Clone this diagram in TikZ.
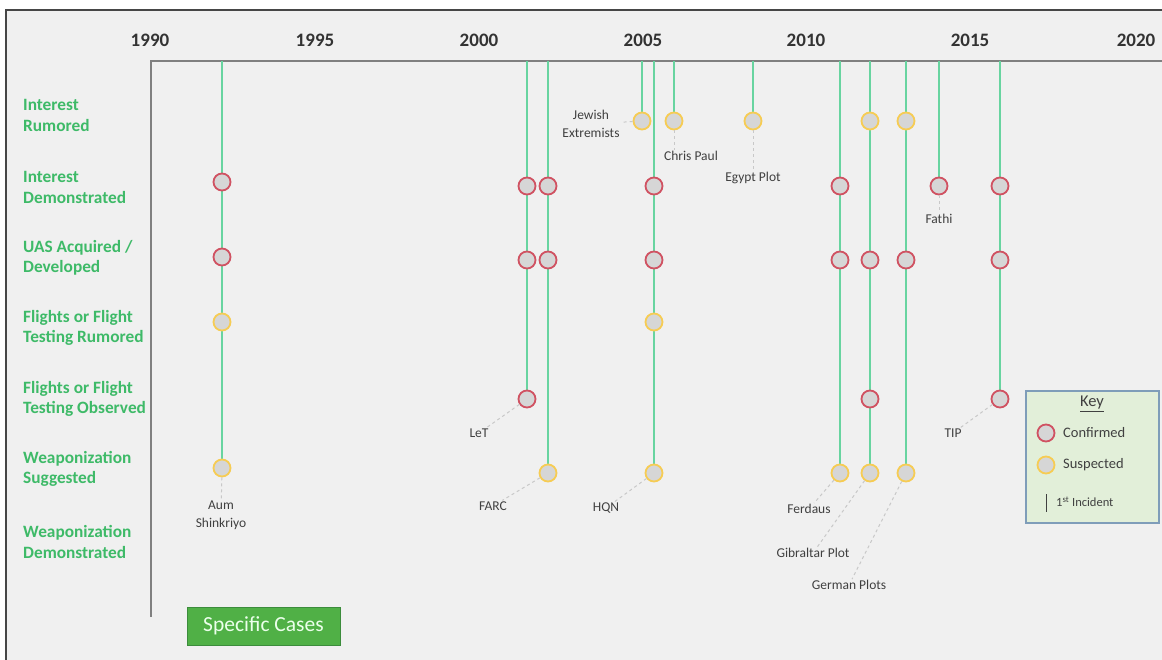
\documentclass[tikz,border=0pt]{standalone}
\usepackage{fontspec}
\setmainfont{Carlito}
\definecolor{bgpanel}{RGB}{240,240,240}
\definecolor{framegray}{RGB}{70,70,70}
\definecolor{axisgray}{RGB}{128,128,128}
\definecolor{vgreen}{RGB}{104,212,160}
\definecolor{labgreen}{RGB}{62,186,104}
\definecolor{confred}{RGB}{208,82,98}
\definecolor{suspyel}{RGB}{246,204,84}
\definecolor{cgray}{RGB}{214,214,214}
\definecolor{txtgray}{RGB}{64,64,64}
\definecolor{leadgray}{RGB}{200,200,200}
\definecolor{keyfill}{RGB}{226,239,217}
\definecolor{keyedge}{RGB}{127,157,185}
\definecolor{btngreen}{RGB}{80,176,70}
\definecolor{btnedge}{RGB}{60,140,60}
\tikzset{
  conf/.style={circle, draw=confred, fill=cgray, line width=1.8pt, minimum size=17pt, inner sep=0pt},
  susp/.style={circle, draw=suspyel, fill=cgray, line width=1.8pt, minimum size=17pt, inner sep=0pt},
  vline/.style={draw=vgreen, line width=2.8pt},
  axisline/.style={draw=axisgray, line width=2.5pt},
  rowlabel/.style={anchor=west, align=left, inner sep=0pt, text=labgreen, font=\fontsize{17.3}{20.5}\selectfont\bfseries},
  yearlabel/.style={inner sep=0pt, text=txtgray!80!black, font=\fontsize{19}{22}\selectfont\bfseries},
  caselabel/.style={align=center, inner sep=1pt, text=txtgray, font=\fontsize{13.5}{18}\selectfont},
  lead/.style={draw=leadgray, line width=1pt, dash pattern=on 3pt off 3pt},
  keytext/.style={anchor=west, inner sep=0pt, text=txtgray, font=\fontsize{14.5}{17}\selectfont}
}
\begin{document}
\begin{tikzpicture}[x=1pt,y=-1pt]
\useasboundingbox (0,0) rectangle (1162,659);
\fill[white] (0,0) rectangle (1162,659);
\draw[framegray, line width=2pt, fill=bgpanel] (6,10) rectangle (1175,672);

% axes
\coordinate (ax0) at (151,61);
\coordinate (axR) at (1170,61);
\coordinate (axB) at (151,617);
\draw[axisline] (axR) -- (ax0) -- (axB);

% years
\node[yearlabel] (y1990) at (150,40) {1990};
\node[yearlabel] (y1995) at (315,40) {1995};
\node[yearlabel] (y2000) at (479,40) {2000};
\node[yearlabel] (y2005) at (643,40) {2005};
\node[yearlabel] (y2010) at (806,40) {2010};
\node[yearlabel] (y2015) at (970,40) {2015};
\node[yearlabel] (y2020) at (1136,40) {2020};

% row labels
\node[rowlabel] (rIR) at (23,115.5) {Interest\\Rumored};
\node[rowlabel] (rID) at (23,187.5) {Interest\\Demonstrated};
\node[rowlabel] (rUA) at (23,258) {UAS Acquired /\\Developed};
\node[rowlabel] (rFR) at (23,328) {Flights or Flight\\Testing Rumored};
\node[rowlabel] (rFO) at (23,399) {Flights or Flight\\Testing Observed};
\node[rowlabel] (rWS) at (23,469) {Weaponization\\Suggested};
\node[rowlabel] (rWD) at (23,542) {Weaponization\\Demonstrated};

% top coordinates of case lines
\coordinate (tAum) at (222,61);
\coordinate (tLeT) at (527,61);
\coordinate (tFarc) at (548,61);
\coordinate (tJew) at (642,61);
\coordinate (tHqn) at (654,61);
\coordinate (tChr) at (674,61);
\coordinate (tEgy) at (753,61);
\coordinate (tFer) at (840,61);
\coordinate (tGib) at (870,61);
\coordinate (tGer) at (906,61);
\coordinate (tFat) at (939,61);
\coordinate (tTip) at (1000,61);

% bottom coordinates
\coordinate (bAum) at (222,468);
\coordinate (bLeT) at (527,399);
\coordinate (bFarc) at (548,473);
\coordinate (bJew) at (642,121);
\coordinate (bHqn) at (654,473);
\coordinate (bChr) at (674,121);
\coordinate (bEgy) at (753,121);
\coordinate (bFer) at (840,473);
\coordinate (bGib) at (870,473);
\coordinate (bGer) at (906,473);
\coordinate (bFat) at (939,186);
\coordinate (bTip) at (1000,399);

\foreach \n in {Aum,LeT,Farc,Jew,Hqn,Chr,Egy,Fer,Gib,Ger,Fat,Tip}{
  \draw[vline] (t\n) -- (b\n);
}

% circles
\node[conf] (aum1) at (222,182) {};
\node[conf] (aum2) at (222,257) {};
\node[susp] (aum3) at (222,322) {};
\node[susp] (aum4) at (222,468) {};

\node[conf] (let1) at (527,186) {};
\node[conf] (let2) at (527,260) {};
\node[conf] (let3) at (527,399) {};

\node[conf] (farc1) at (548,186) {};
\node[conf] (farc2) at (548,260) {};
\node[susp] (farc3) at (548,473) {};

\node[susp] (jew1) at (642,121) {};

\node[conf] (hqn1) at (654,186) {};
\node[conf] (hqn2) at (654,260) {};
\node[susp] (hqn3) at (654,322) {};
\node[susp] (hqn4) at (654,473) {};

\node[susp] (chr1) at (674,121) {};
\node[susp] (egy1) at (753,121) {};

\node[conf] (fer1) at (840,186) {};
\node[conf] (fer2) at (840,260) {};
\node[susp] (fer3) at (840,473) {};

\node[susp] (gib1) at (870,121) {};
\node[conf] (gib2) at (870,260) {};
\node[conf] (gib3) at (870,399) {};
\node[susp] (gib4) at (870,473) {};

\node[susp] (ger1) at (906,121) {};
\node[conf] (ger2) at (906,260) {};
\node[susp] (ger3) at (906,473) {};

\node[conf] (fat1) at (939,186) {};

\node[conf] (tip1) at (1000,186) {};
\node[conf] (tip2) at (1000,260) {};
\node[conf] (tip3) at (1000,399) {};

% case labels
\node[caselabel] (aumL) at (221,515) {Aum\\Shinkriyo};
\node[caselabel] (letL) at (479,433) {LeT};
\node[caselabel] (farcL) at (493,506) {FARC};
\node[caselabel] (hqnL) at (606,508) {HQN};
\node[caselabel] (jewL) at (591,124) {Jewish\\Extremists};
\node[caselabel] (chrL) at (691,156) {Chris Paul};
\node[caselabel] (egyL) at (753,178) {Egypt Plot};
\node[caselabel] (ferL) at (809,509) {Ferdaus};
\node[caselabel] (gibL) at (813,553) {Gibraltar Plot};
\node[caselabel] (gerL) at (849,585) {German Plots};
\node[caselabel] (fatL) at (939,219) {Fathi};
\node[caselabel] (tipL) at (953,433) {TIP};

% leaders
\draw[lead] (aum4) -- (aumL);
\draw[lead] (let3) -- (letL);
\draw[lead] (farc3) -- (farcL);
\draw[lead] (hqn4) -- (hqnL);
\draw[lead] (jew1) -- (jewL);
\draw[lead] (chr1) -- (chr1 |- chrL.north);
\draw[lead] (egy1) -- (egyL);
\draw[lead] (fer3) -- (ferL);
\draw[lead] (gib4) -- (gibL);
\draw[lead] (ger3) -- (gerL);
\draw[lead] (fat1) -- (fatL);
\draw[lead] (tip3) -- (tipL);

% key
\node[draw=keyedge, fill=keyfill, line width=1.5pt, minimum width=133pt, minimum height=132pt, inner sep=0pt] (keybox) at (1092.5,457) {};
\node[inner sep=0pt, text=txtgray, font=\fontsize{16.5}{19}\selectfont] (keyT) at (1092,404) {\underline{Key}};
\node[conf] (kc) at (1046,433) {};
\node[keytext] (kcT) at (1063,433) {Confirmed};
\node[susp] (ks) at (1046,465) {};
\node[keytext] (ksT) at (1063,465) {Suspected};
\coordinate (kl1) at (1046,494);
\coordinate (kl2) at (1046,512);
\draw[txtgray, line width=1pt] (kl1) -- (kl2);
\node[keytext, font=\fontsize{12.5}{15}\selectfont] (klT) at (1056,502) {1\textsuperscript{st} Incident};

% button
\node[draw=btnedge, fill=btngreen, line width=1pt, minimum width=153pt, minimum height=38pt, inner sep=0pt, text=white!92!green, font=\fontsize{21.5}{24}\selectfont] (btn) at (263.5,626) {Specific Cases};
\end{tikzpicture}
\end{document}
